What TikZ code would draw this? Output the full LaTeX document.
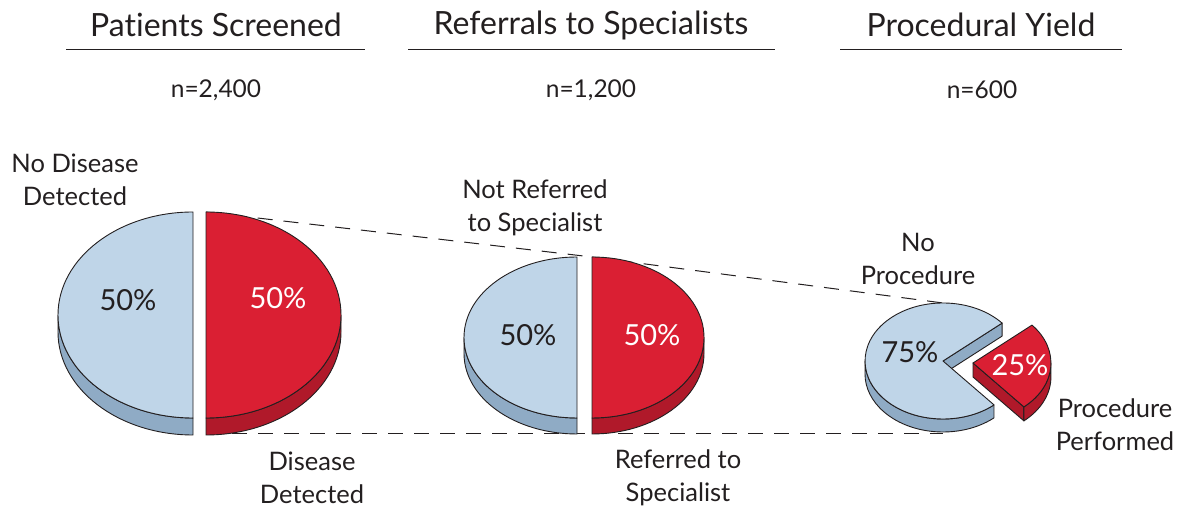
\documentclass[tikz,border=0pt]{standalone}
\usepackage{fontspec}
\setmainfont{Lato}[Ligatures=NoCommon]
\definecolor{btopc}{HTML}{BFD5E8}
\definecolor{bsidec}{HTML}{8FABC5}
\definecolor{rtopc}{HTML}{DA1F33}
\definecolor{rsidec}{HTML}{B0192A}
\definecolor{ink}{HTML}{231F20}
\begin{document}
\begin{tikzpicture}[x=1pt,y=1pt,line join=round,
  outl/.style={draw=ink,line width=0.9pt},
  btop/.style={outl,fill=btopc},
  bside/.style={outl,fill=bsidec},
  rtop/.style={outl,fill=rtopc},
  rside/.style={outl,fill=rsidec},
  title/.style={font=\fontsize{32}{38}\selectfont,text=ink},
  count/.style={font=\fontsize{24.5}{28}\selectfont,text=ink},
  lbl/.style={font=\fontsize{25.5}{32.5}\selectfont,text=ink,align=center},
  pct/.style={font=\fontsize{29}{35}\selectfont},
  rule/.style={draw=ink,line width=1pt},
  dashline/.style={draw=ink,line width=1pt,dash pattern=on 15pt off 11pt}]
\useasboundingbox (0,0) rectangle (1183,510);

% titles
\node[title] (t1) at (216,485) {Patients Screened};
\node[title] (t2) at (591,485) {Referrals to Specialists};
\node[title] (t3) at (981,485) {Procedural Yield};
\coordinate (r1a) at (66,460); \coordinate (r1b) at (365,460);
\coordinate (r2a) at (408,460); \coordinate (r2b) at (775,460);
\coordinate (r3a) at (840,460); \coordinate (r3b) at (1122,460);
\draw[rule] (r1a) -- (r1b);
\draw[rule] (r2a) -- (r2b);
\draw[rule] (r3a) -- (r3b);
\node[count] (n1) at (216,420) {n=2,400};
\node[count] (n2) at (591,420) {n=1,200};
\node[count] (n3) at (982,420) {n=600};

% dashed connectors (behind pies)
\coordinate (a1) at (206,298); \coordinate (a2) at (592,253); \coordinate (a3) at (943,207);
\coordinate (b1) at (206,76); \coordinate (b2) at (592,76); \coordinate (b3) at (943,76);
\draw[dashline] (a1) -- (a2);
\draw[dashline] (a2) -- (a3);
\draw[dashline] (b1) -- (b2);
\draw[dashline] (b2) -- (b3);

% pie 1
\filldraw[bside] (58,195) arc[start angle=180,end angle=270,x radius=135,y radius=103] -- ++(0,-17) arc[start angle=270,end angle=180,x radius=135,y radius=103] -- cycle;
\filldraw[btop] (193,298) arc[start angle=90,end angle=270,x radius=135,y radius=103] -- cycle;
\filldraw[rside] (206,92) arc[start angle=-90,end angle=0,x radius=135,y radius=103] -- ++(0,-17) arc[start angle=0,end angle=-90,x radius=135,y radius=103] -- cycle;
\filldraw[rtop] (206,92) arc[start angle=-90,end angle=90,x radius=135,y radius=103] -- cycle;
\node[pct,text=ink] (p1a) at (128,210) {50\%};
\node[pct,text=white] (p1b) at (278,212) {50\%};

% pie 2
\filldraw[bside] (464,172.5) arc[start angle=180,end angle=270,x radius=113,y radius=80.5] -- ++(0,-16) arc[start angle=270,end angle=180,x radius=113,y radius=80.5] -- cycle;
\filldraw[btop] (577,253) arc[start angle=90,end angle=270,x radius=113,y radius=80.5] -- cycle;
\filldraw[rside] (592,92) arc[start angle=-90,end angle=0,x radius=112,y radius=80.5] -- ++(0,-16) arc[start angle=0,end angle=-90,x radius=112,y radius=80.5] -- cycle;
\filldraw[rtop] (592,92) arc[start angle=-90,end angle=90,x radius=112,y radius=80.5] -- cycle;
\node[pct,text=ink] (p2a) at (528,175) {50\%};
\node[pct,text=white] (p2b) at (652,175) {50\%};

% pie 3
\filldraw[bside] (865,149) arc[start angle=180,end angle=310.8,x radius=78,y radius=58] -- ++(0,-13) arc[start angle=310.8,end angle=180,x radius=78,y radius=58] -- cycle;
\filldraw[bside] (943,149) -- (1002.1,186.9) -- ++(0,-13) -- (943,136) -- cycle;
\filldraw[btop] (943,149) -- (1002.1,186.9) arc[start angle=40.8,end angle=310.8,x radius=78,y radius=58] -- cycle;
\filldraw[rside] (973,147) -- (1023.9,103.1) -- ++(0,-14) -- (973,133) -- cycle;
\filldraw[rside] (1023.9,103.1) arc[start angle=-49.2,end angle=0,x radius=78,y radius=58] -- ++(0,-14) arc[start angle=0,end angle=-49.2,x radius=78,y radius=58] -- cycle;
\filldraw[rtop] (973,147) -- (1023.9,103.1) arc[start angle=-49.2,end angle=40.8,x radius=78,y radius=58] -- cycle;
\node[pct,text=ink] (p3a) at (910,158) {75\%};
\node[pct,text=white] (p3b) at (1020,145) {25\%};

% labels
\node[lbl] (l1) at (75,330) {No Disease\\Detected};
\node[lbl] (l2) at (312,32) {Disease\\Detected};
\node[lbl] (l3) at (535,302) {Not Referred\\to Specialist};
\node[lbl] (l4) at (678,32) {Referred to\\Specialist};
\node[lbl] (l5) at (918,251) {No\\Procedure};
\node[lbl] (l6) at (1115,85.5) {Procedure\\Performed};
\end{tikzpicture}
\end{document}
